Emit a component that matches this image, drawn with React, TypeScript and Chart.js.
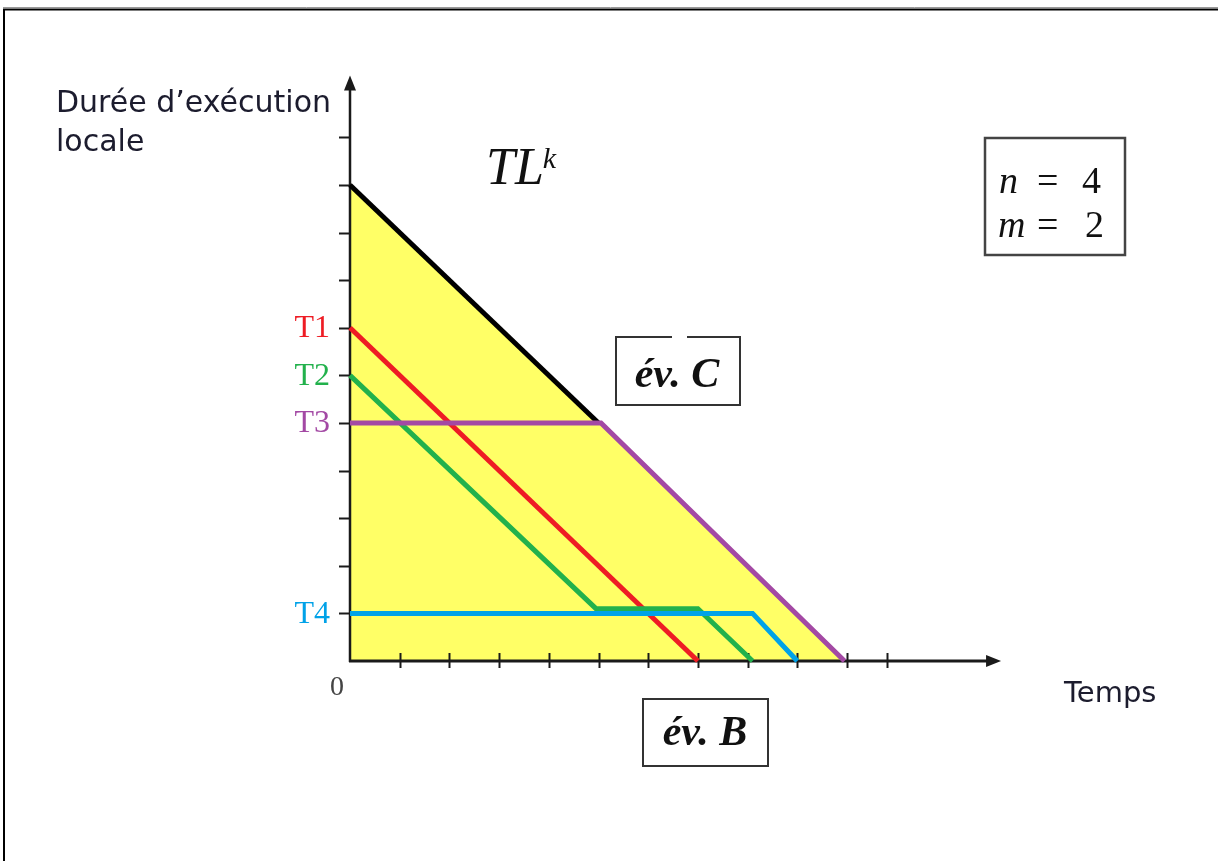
import React, { useEffect, useRef } from "react";
import { Chart, registerables } from "chart.js";

Chart.register(...registerables);

const WIDTH = 1218;
const HEIGHT = 861;

// ---- Data (x: time units, y: local execution duration units) ----
const envelopeX = [0, 5, 9.95];
const envelopeY = [10, 5, 0];
const tlX = [0, 5];
const tlY = [10, 5];
const t1X = [0, 7];
const t1Y = [7, 0];
const t2X = [0, 4.95, 7, 8.1];
const t2Y = [6, 1.1, 1.1, 0];
const t3X = [0, 5.05, 9.95];
const t3Y = [5, 5, 0];
const t4X = [0, 8.1, 9];
const t4Y = [1, 1, 0];

const xTickValues = [1, 2, 3, 4, 5, 6, 7, 8, 9, 10, 10.8];
const yTickValues = [1, 2, 3, 4, 5, 6, 7, 8, 9, 10, 11];
const taskLabels = ["T1", "T2", "T3", "T4"];
const taskLabelValues = [7, 6, 5, 1];
const taskColors = ["#EE1C24", "#22B14C", "#A349A4", "#00A2E8"];

const X_MAX = 13.1;
const Y_MAX = 12.3;

// layout constants
const ORIGIN_X = 350;
const ORIGIN_Y = 661;
const X_UNIT = 49.7;
const Y_UNIT = 47.6;

const pts = (xs: number[], ys: number[]) => xs.map((x, i) => ({ x, y: ys[i] }));

function drawAxes(chart: any) {
  const ctx: CanvasRenderingContext2D = chart.ctx;
  const xs = chart.scales.x;
  const ys = chart.scales.y;
  const x0 = xs.getPixelForValue(0);
  const y0 = ys.getPixelForValue(0);
  const xEnd = xs.getPixelForValue(X_MAX);
  const yEnd = ys.getPixelForValue(Y_MAX);
  ctx.save();
  ctx.strokeStyle = "#1a1a1a";
  ctx.fillStyle = "#1a1a1a";
  // y axis
  ctx.lineWidth = 2.5;
  ctx.beginPath();
  ctx.moveTo(x0, y0 + 1);
  ctx.lineTo(x0, yEnd + 10);
  ctx.stroke();
  // x axis
  ctx.lineWidth = 3;
  ctx.beginPath();
  ctx.moveTo(x0 - 1, y0);
  ctx.lineTo(xEnd - 10, y0);
  ctx.stroke();
  // arrows
  ctx.beginPath();
  ctx.moveTo(x0, yEnd);
  ctx.lineTo(x0 - 6, yEnd + 15);
  ctx.lineTo(x0 + 6, yEnd + 15);
  ctx.closePath();
  ctx.fill();
  ctx.beginPath();
  ctx.moveTo(xEnd, y0);
  ctx.lineTo(xEnd - 15, y0 - 6);
  ctx.lineTo(xEnd - 15, y0 + 6);
  ctx.closePath();
  ctx.fill();
  // ticks
  ctx.lineWidth = 2;
  yTickValues.forEach((v) => {
    const y = Math.round(ys.getPixelForValue(v)) + 0.5;
    ctx.beginPath();
    ctx.moveTo(x0 - 11, y);
    ctx.lineTo(x0 + 1, y);
    ctx.stroke();
  });
  xTickValues.forEach((v) => {
    const x = Math.round(xs.getPixelForValue(v)) + 0.5;
    ctx.beginPath();
    ctx.moveTo(x, y0 - 8);
    ctx.lineTo(x, y0 + 7);
    ctx.stroke();
  });
  ctx.restore();
}

function drawTexts(chart: any) {
  const ctx: CanvasRenderingContext2D = chart.ctx;
  const xs = chart.scales.x;
  const ys = chart.scales.y;
  const x0 = xs.getPixelForValue(0);
  const y0 = ys.getPixelForValue(0);
  ctx.save();

  // outer frame
  ctx.strokeStyle = "#999";
  ctx.lineWidth = 1;
  ctx.beginPath();
  ctx.moveTo(3, 7.5);
  ctx.lineTo(WIDTH, 7.5);
  ctx.stroke();
  ctx.strokeStyle = "#000";
  ctx.lineWidth = 2;
  ctx.beginPath();
  ctx.moveTo(3, 9.5);
  ctx.lineTo(WIDTH, 9.5);
  ctx.moveTo(4, 9);
  ctx.lineTo(4, HEIGHT);
  ctx.stroke();

  // axis titles
  ctx.fillStyle = "#1c1c2e";
  ctx.textAlign = "left";
  ctx.textBaseline = "alphabetic";
  ctx.font = '30px "DejaVu Sans"';
  ctx.fillText("Durée d’exécution", 56, 112);
  ctx.fillText("locale", 56, 151);
  ctx.font = '29px "DejaVu Sans"';
  ctx.fillText("Temps", 1064, 702);

  // origin label
  ctx.fillStyle = "#444";
  ctx.font = '28px "Liberation Serif"';
  ctx.textAlign = "center";
  ctx.textBaseline = "middle";
  ctx.fillText("0", x0 - 13, y0 + 27);

  // task labels
  ctx.textAlign = "right";
  ctx.font = '32px "Liberation Serif"';
  taskLabels.forEach((lbl, i) => {
    ctx.fillStyle = taskColors[i];
    ctx.fillText(lbl, x0 - 20, ys.getPixelForValue(taskLabelValues[i]) + 1);
  });

  // TL^k
  ctx.fillStyle = "#111";
  ctx.textAlign = "left";
  ctx.textBaseline = "alphabetic";
  ctx.font = 'italic 52px "Liberation Serif"';
  ctx.fillText("TL", 486, 184);
  const tlw = ctx.measureText("TL").width;
  ctx.font = 'italic 30px "Liberation Serif"';
  ctx.fillText("k", 486 + tlw - 1, 168);

  // boxes
  ctx.strokeStyle = "#333";
  ctx.lineWidth = 2;
  // év. C
  ctx.beginPath();
  ctx.moveTo(672, 337);
  ctx.lineTo(616, 337);
  ctx.lineTo(616, 405);
  ctx.lineTo(740, 405);
  ctx.lineTo(740, 337);
  ctx.lineTo(687, 337);
  ctx.stroke();
  // év. B
  ctx.strokeRect(643, 699, 125, 67);
  // n/m
  ctx.lineWidth = 2.5;
  ctx.strokeStyle = "#444";
  ctx.strokeRect(985, 138, 140, 117);

  ctx.fillStyle = "#111";
  ctx.textAlign = "center";
  ctx.font = 'bold italic 42px "Liberation Serif"';
  ctx.fillText("év. C", 677, 387);
  ctx.fillText("év. B", 705, 745);

  ctx.textAlign = "left";
  ctx.font = 'italic 38px "Liberation Serif"';
  ctx.fillText("n", 999, 193);
  ctx.fillText("m", 998, 237);
  ctx.font = '38px "Liberation Serif"';
  ctx.fillText("=", 1037, 193);
  ctx.fillText("=", 1037, 237);
  ctx.fillText("4", 1082, 193);
  ctx.fillText("2", 1085, 237);

  ctx.restore();
}

const decorPlugin = {
  id: "decor",
  afterDatasetDraw(chart: any, args: any) {
    if (args.index === 0) drawAxes(chart);
  },
  afterDraw(chart: any) {
    drawTexts(chart);
  },
};

export default function App() {
  const canvasRef = useRef<HTMLCanvasElement | null>(null);

  useEffect(() => {
    const canvas = canvasRef.current;
    if (!canvas) return;
    const lineDs = (label: string, xs: number[], ys: number[], color: string, order: number) => ({
      label,
      data: pts(xs, ys),
      borderColor: color,
      backgroundColor: color,
      borderWidth: 5,
      pointRadius: 0,
      fill: false,
      tension: 0,
      clip: false as any,
      order,
      borderCapStyle: "butt" as const,
      borderJoinStyle: "miter" as const,
    });
    const chart = new Chart(canvas, {
      type: "line",
      data: {
        datasets: [
          {
            label: "envelope",
            data: pts(envelopeX, envelopeY),
            borderWidth: 0,
            borderColor: "rgba(0,0,0,0)",
            backgroundColor: "#FFFF66",
            pointRadius: 0,
            fill: "origin",
            tension: 0,
            order: 10,
          },
          lineDs("TL", tlX, tlY, "#000000", 6),
          lineDs("T1", t1X, t1Y, taskColors[0], 4),
          lineDs("T2", t2X, t2Y, taskColors[1], 3),
          lineDs("T4", t4X, t4Y, taskColors[3], 2),
          lineDs("T3", t3X, t3Y, taskColors[2], 1),
        ],
      },
      options: {
        animation: false,
        responsive: false,
        devicePixelRatio: 1,
        events: [],
        layout: {
          padding: {
            left: ORIGIN_X,
            top: ORIGIN_Y - Y_MAX * Y_UNIT,
            right: WIDTH - (ORIGIN_X + X_MAX * X_UNIT),
            bottom: HEIGHT - ORIGIN_Y,
          },
        },
        scales: {
          x: { type: "linear", min: 0, max: X_MAX, display: false },
          y: { type: "linear", min: 0, max: Y_MAX, display: false },
        },
        plugins: {
          legend: { display: false },
          tooltip: { enabled: false },
        },
      },
      plugins: [decorPlugin],
    });
    return () => chart.destroy();
  }, []);

  return (
    <div style={{ position: "absolute", left: 0, top: 0, width: WIDTH, height: HEIGHT, background: "#fff" }}>
      <canvas ref={canvasRef} width={WIDTH} height={HEIGHT} style={{ width: WIDTH, height: HEIGHT, display: "block" }} />
    </div>
  );
}
